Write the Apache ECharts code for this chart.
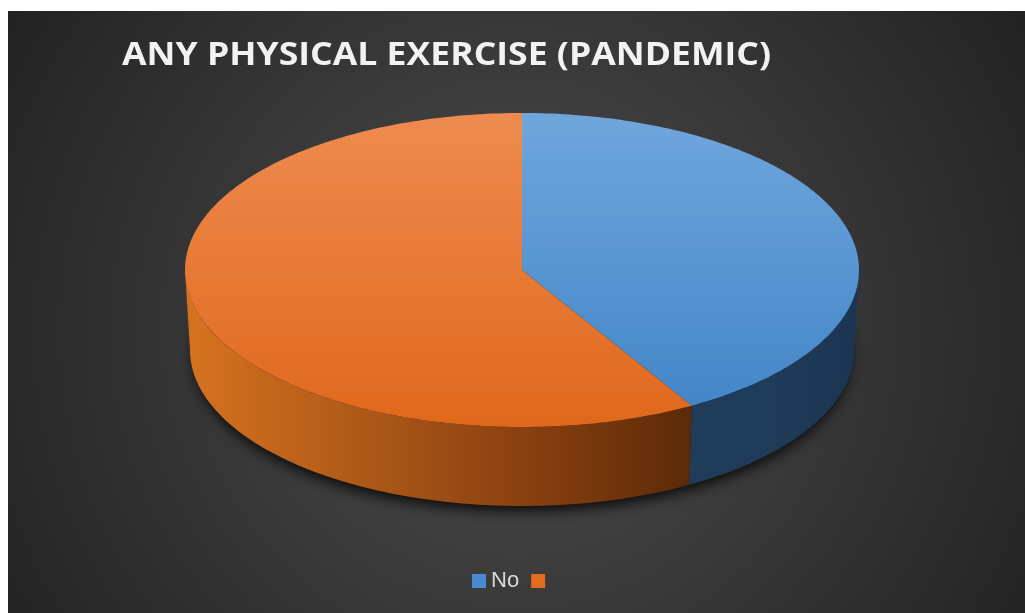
<!DOCTYPE html>
<html>
<head>
<meta charset="utf-8">
<script src="https://cdn.jsdelivr.net/npm/echarts@6/dist/echarts.min.js"></script>
<style>
  html, body { margin: 0; padding: 0; background: #ffffff; }
  #chart { position: absolute; left: 8px; top: 11px; width: 1017px; height: 602px; }
</style>
</head>
<body>
<div id="chart"></div>
<script>
// Pie data: answers to "any physical exercise" during the pandemic
const chartTitle = 'ANY PHYSICAL EXERCISE (PANDEMIC)';
const categories = ['No', ' '];
const values = [41.6, 58.4];

// Slice palette: legend swatch, top face gradient, side wall gradient (left -> right)
const sliceColors = [
  { legend: '#4a8ad0', topA: '#6fa6dc', topB: '#4486c8', side: ['#1f3d5b', '#1e3b58', '#1b3652'] },
  { legend: '#e46c1c', topA: '#ee8b50', topB: '#e0681c', side: ['#d6731f', '#b05a18', '#8a4010', '#5c2a08'] }
];

// Disc geometry (pixels inside the chart area)
const disc = { cx: 514, cy: 259, rx: 337, ry: 157, depth: 80, rxBottom: 332, ryBottom: 156 };

const total = values.reduce((s, v) => s + v, 0);
const startFraction = values.map((v, i) => values.slice(0, i).reduce((s, x) => s + x, 0) / total);

function topPoint(t) {
  return [disc.cx + disc.rx * Math.sin(t), disc.cy - disc.ry * Math.cos(t)];
}
function bottomPoint(t) {
  return [disc.cx + disc.rxBottom * Math.sin(t), disc.cy + disc.depth - disc.ryBottom * Math.cos(t)];
}
function arc(fn, a, b) {
  const n = Math.max(2, Math.ceil(Math.abs(b - a) / (Math.PI / 180)));
  const pts = [];
  for (let k = 0; k <= n; k++) pts.push(fn(a + (b - a) * k / n));
  return pts;
}

function renderSlice(params, api) {
  const i = params.seriesIndex;
  const c = sliceColors[i];
  const a0 = startFraction[i] * Math.PI * 2;
  const a1 = a0 + api.value(0) / total * Math.PI * 2;
  const children = [];

  if (i === 0) {
    // soft shadow under the disc
    children.push({
      type: 'ellipse',
      shape: { cx: disc.cx, cy: disc.cy + disc.depth + 2, rx: disc.rxBottom - 4, ry: disc.ryBottom - 2 },
      style: { fill: '#1a1a1a', shadowBlur: 14, shadowColor: 'rgba(0,0,0,0.85)', shadowOffsetY: 5 }
    });
  }

  // front wall: only the part facing the viewer (90deg .. 270deg clockwise from top)
  const s0 = Math.max(a0, Math.PI / 2);
  const s1 = Math.min(a1, Math.PI * 1.5);
  if (s1 > s0) {
    const pts = arc(topPoint, s0, s1).concat(arc(bottomPoint, s1, s0));
    const stops = c.side.map((col, k) => ({ offset: k / (c.side.length - 1), color: col }));
    children.push({
      type: 'polygon',
      shape: { points: pts },
      style: { fill: new echarts.graphic.LinearGradient(0, 0, 1, 0, stops) }
    });
  }

  // top face
  const top = [[disc.cx, disc.cy]].concat(arc(topPoint, a0, a1));
  children.push({
    type: 'polygon',
    shape: { points: top },
    style: {
      fill: new echarts.graphic.LinearGradient(0, 0, 0, 1, [
        { offset: 0, color: c.topA },
        { offset: 1, color: c.topB }
      ])
    }
  });

  return { type: 'group', children: children };
}

const chart = echarts.init(document.getElementById('chart'), null, { renderer: 'canvas' });

chart.setOption({
  animation: false,
  backgroundColor: new echarts.graphic.RadialGradient(0.5, 0.53, 1.0, [
    { offset: 0, color: '#4e4e4e' },
    { offset: 1, color: '#222222' }
  ]),
  graphic: [{
    type: 'text',
    x: 114,
    y: 28,
    scaleX: 1.078,
    silent: true,
    style: {
      text: chartTitle,
      font: 'bold 33px "Open Sans"',
      fill: '#f2f2f2',
      verticalAlign: 'top'
    }
  }],
  legend: {
    left: 459,
    top: 554,
    itemWidth: 14,
    itemHeight: 14,
    itemGap: 12,
    icon: 'rect',
    data: categories,
    textStyle: { color: '#d9d9d9', fontFamily: 'Liberation Sans', fontSize: 22 },
    selectedMode: false
  },
  series: categories.map((name, i) => ({
    type: 'custom',
    name: name,
    coordinateSystem: 'none',
    silent: true,
    itemStyle: { color: sliceColors[i].legend },
    renderItem: renderSlice,
    data: [values[i]]
  }))
});
</script>
</body>
</html>
